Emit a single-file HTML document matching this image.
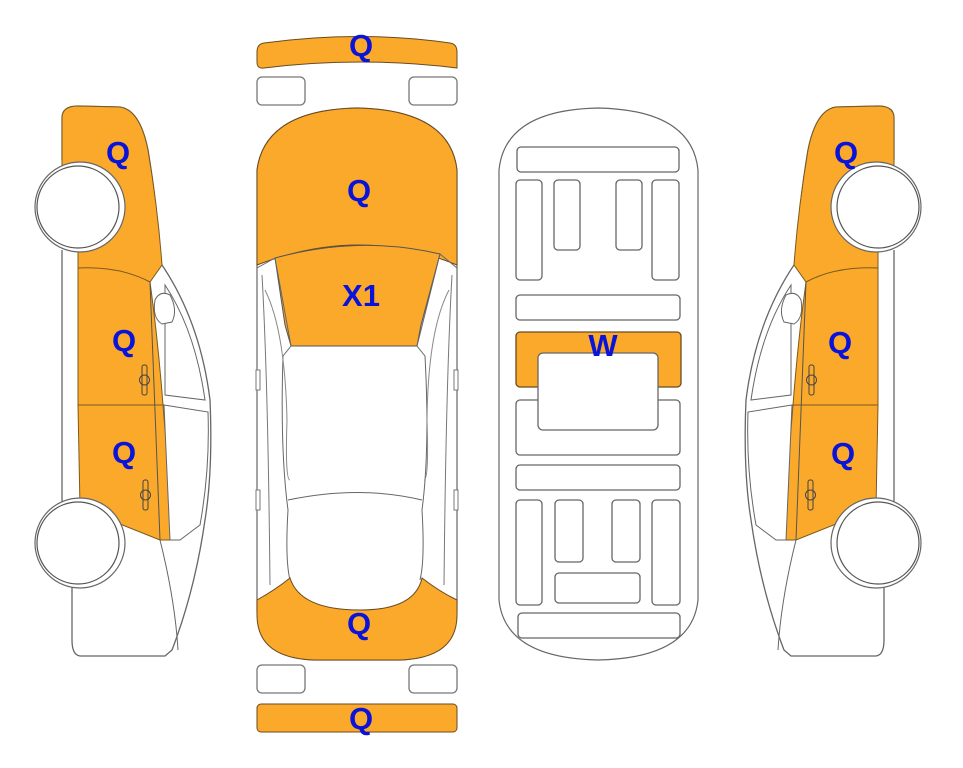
<!DOCTYPE html>
<html><head><meta charset="utf-8"><style>
html,body{margin:0;padding:0;background:#fff;width:963px;height:768px;overflow:hidden}
svg{display:block}
text{font-family:"Liberation Sans",sans-serif;font-weight:bold;font-size:31px;fill:#0a14d8;text-anchor:middle}
</style></head><body>
<svg width="963" height="768" viewBox="0 0 963 768" xmlns="http://www.w3.org/2000/svg">
<defs>
<g id="side">
  <path d="M62,118 Q62,106 78,106 L120,107 Q140,110 148,150 Q158,210 160,262 Q200,320 210,400 Q213,470 205,520 Q195,590 172,650 L165,656 L80,656 Q72,655 72,640 L72,585 M62,505 L62,250 M62,160 L62,118" fill="none" stroke="#666" stroke-width="1.3"/>
  <path d="M62,118 Q62,106 78,106 L120,107 Q140,110 148,150 Q158,210 162,265 L150,282 Q110,268 78,268 L78,248 L62,248 Z" fill="#fba92b" stroke="#7a5a20" stroke-width="1"/>
  <path d="M78,268 Q120,266 150,282 Q158,340 163,405 L78,405 Z" fill="#fba92b" stroke="#7a5a20" stroke-width="1"/>
  <path d="M78,405 L163,405 Q168,470 176,540 L160,540 L80,508 Z" fill="#fba92b" stroke="#7a5a20" stroke-width="1"/>
  <line x1="150" y1="282" x2="160" y2="540" stroke="#555" stroke-width="1"/>
  <path d="M165,285 Q195,330 205,400 L165,395 Z" fill="#fff" stroke="#666" stroke-width="1"/>
  <path d="M164,405 L208,412 Q210,470 200,525 L180,540 L170,540 Z" fill="#fff" stroke="#666" stroke-width="1"/>
  <path d="M155,300 Q160,290 170,295 Q178,310 172,322 L162,324 Q152,318 155,300 Z" fill="#fff" stroke="#666" stroke-width="1"/>
  <rect x="142" y="365" width="5" height="30" rx="2" fill="none" stroke="#444"/>
  <circle cx="144.5" cy="380" r="5" fill="none" stroke="#444"/>
  <rect x="143" y="480" width="5" height="30" rx="2" fill="none" stroke="#444"/>
  <circle cx="145.5" cy="495" r="5" fill="none" stroke="#444"/>
  <path d="M160,540 Q175,600 178,650" fill="none" stroke="#666" stroke-width="1"/>
  <circle cx="80" cy="207" r="45" fill="#fff" stroke="#666" stroke-width="1.2"/>
  <circle cx="78" cy="207" r="41" fill="#fff" stroke="#555" stroke-width="1.2"/>
  <circle cx="80" cy="543" r="45" fill="#fff" stroke="#666" stroke-width="1.2"/>
  <circle cx="78" cy="543" r="41" fill="#fff" stroke="#555" stroke-width="1.2"/>
</g>
</defs>
<use href="#side"/>
<use href="#side" transform="translate(956,0) scale(-1,1)"/>

<path d="M257,52 Q257,44 264,43 Q360,30 450,43 Q457,44 457,52 L457,68 Q360,56 264,68 Q257,69 257,62 Z" fill="#fba92b" stroke="#6a4a20" stroke-width="1"/>
<rect x="257" y="77" width="48" height="28" rx="5" fill="#fff" stroke="#777" stroke-width="1.3"/>
<rect x="409" y="77" width="48" height="28" rx="5" fill="#fff" stroke="#777" stroke-width="1.3"/>
<rect x="257" y="665" width="48" height="28" rx="5" fill="#fff" stroke="#777" stroke-width="1.3"/>
<rect x="409" y="665" width="48" height="28" rx="5" fill="#fff" stroke="#777" stroke-width="1.3"/>
<rect x="257" y="704" width="200" height="28" rx="4" fill="#fba92b" stroke="#6a4a20" stroke-width="1"/>
<path d="M257,170 Q265,110 357,108 Q450,110 457,170 L457,610 Q457,658 400,660 L314,660 Q257,658 257,610 Z" fill="#fff" stroke="#666" stroke-width="1.2"/>
<path d="M257,170 Q265,110 357,108 Q450,110 457,170 L457,265 Q360,225 257,265 Z" fill="#fba92b" stroke="#6a4a20" stroke-width="1"/>
<path d="M275,258 Q360,235 440,254 L421,325 L417,346 L291,346 L285,325 Z" fill="#fba92b" stroke="#555" stroke-width="1"/>
<path d="M257,268 L275,258 L291,346 L283,356 Q280,450 288,510 Q285,560 290,580" fill="none" stroke="#666" stroke-width="1"/>
<path d="M457,268 L440,254 L417,346 L425,356 Q430,450 422,510 Q425,560 420,580" fill="none" stroke="#666" stroke-width="1"/>
<path d="M262,275 Q268,380 270,585 M452,275 Q446,380 444,585" fill="none" stroke="#777" stroke-width="1"/>
<path d="M265,290 Q285,330 287,420 Q285,480 290,480 M449,290 Q428,330 427,420 Q429,480 424,480" fill="none" stroke="#888" stroke-width="1"/>
<path d="M288,500 Q360,485 422,500" fill="none" stroke="#666" stroke-width="1"/>
<path d="M257,610 L257,600 Q275,590 290,578 Q300,610 360,610 Q415,610 422,578 Q440,592 457,600 L457,615 Q457,658 400,660 L314,660 Q257,658 257,615 Z" fill="#fba92b" stroke="#6a4a20" stroke-width="1"/>
<rect x="256" y="370" width="4" height="20" fill="#fff" stroke="#777"/>
<rect x="454" y="370" width="4" height="20" fill="#fff" stroke="#777"/>
<rect x="256" y="490" width="4" height="20" fill="#fff" stroke="#777"/>
<rect x="454" y="490" width="4" height="20" fill="#fff" stroke="#777"/>

<g fill="#fff" stroke="#666" stroke-width="1.3">
<path d="M499,170 Q505,110 598,108 Q692,110 698,170 L698,600 Q692,658 598,660 Q505,658 499,600 Z" stroke-width="1.2"/>
<rect x="517" y="147" width="162" height="25" rx="4"/>
<rect x="516" y="180" width="26" height="100" rx="4"/>
<rect x="554" y="180" width="26" height="70" rx="4"/>
<rect x="616" y="180" width="26" height="70" rx="4"/>
<rect x="652" y="180" width="27" height="100" rx="4"/>
<rect x="516" y="295" width="164" height="25" rx="4"/>
<rect x="516" y="332" width="165" height="55" rx="4" fill="#fba92b" stroke="#6a4a20"/>
<rect x="516" y="400" width="164" height="55" rx="4"/>
<rect x="538" y="353" width="120" height="77" rx="5"/>
<rect x="516" y="465" width="164" height="25" rx="4"/>
<rect x="516" y="500" width="26" height="105" rx="4"/>
<rect x="555" y="500" width="28" height="62" rx="4"/>
<rect x="612" y="500" width="28" height="62" rx="4"/>
<rect x="652" y="500" width="28" height="105" rx="4"/>
<rect x="555" y="573" width="85" height="30" rx="4"/>
<rect x="518" y="613" width="162" height="25" rx="4"/>
</g>

<text x="361" y="56">Q</text>
<text x="359" y="201">Q</text>
<text x="361" y="306">X1</text>
<text x="359" y="634">Q</text>
<text x="361" y="729">Q</text>
<text x="603" y="356">W</text>
<text x="118" y="163">Q</text>
<text x="124" y="351">Q</text>
<text x="124" y="463">Q</text>
<text x="846" y="163">Q</text>
<text x="840" y="353">Q</text>
<text x="843" y="464">Q</text>
</svg>
</body></html>
